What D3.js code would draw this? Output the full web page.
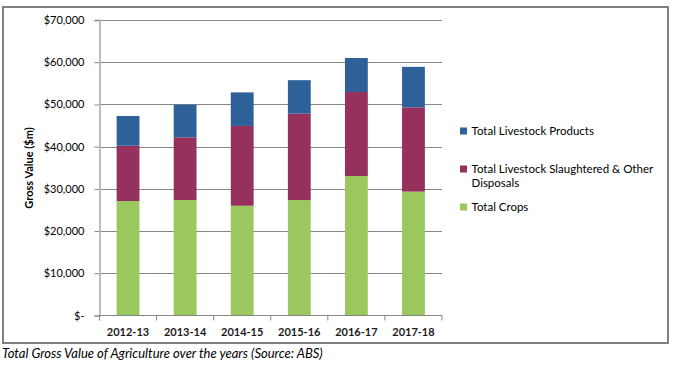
<!DOCTYPE html>
<html><head><meta charset="utf-8">
<script src="https://cdn.jsdelivr.net/npm/d3@7"></script>
<style>
html,body{margin:0;padding:0;background:#fff;}
svg{display:block;font-family:Lato,"Open Sans",sans-serif;}
</style></head>
<body>
<svg id="chart" width="675" height="366"></svg>
<script>
const categories = ["2012-13","2013-14","2014-15","2015-16","2016-17","2017-18"];
const totalCrops = [27100, 27350, 26000, 27350, 33050, 29350];
const livestockSlaughtered = [13100, 14850, 18900, 20450, 19900, 19950];
const livestockProducts = [7050, 7750, 7950, 7950, 8050, 9600];
const yTicks = [0, 10000, 20000, 30000, 40000, 50000, 60000, 70000];
const seriesNames = ["Total Crops", "Total Livestock Slaughtered & Other Disposals", "Total Livestock Products"];
const seriesColors = ["#9bc85e", "#96305d", "#2f6199"];

const svg = d3.select("#chart");
const m = {left: 99.5, right: 442, top: 20, bottom: 315.5};

// outer border
svg.append("rect").attr("x", 3).attr("y", 7).attr("width", 665).attr("height", 336)
  .attr("fill", "none").attr("stroke", "#808080").attr("stroke-width", 2);

const x = d3.scaleBand().domain(categories).range([m.left, m.right]).paddingInner(0.6).paddingOuter(0.3);
const y = d3.scaleLinear().domain([0, 70000]).range([m.bottom, m.top]);

// gridlines
svg.append("g").selectAll("line").data(yTicks.filter(d => d > 0)).join("line")
  .attr("x1", m.left).attr("x2", m.right)
  .attr("y1", d => Math.round(y(d)) + 0.5).attr("y2", d => Math.round(y(d)) + 0.5)
  .attr("stroke", "#878787").attr("stroke-width", 1);

// y axis
const yAxis = d3.axisLeft(y).tickValues(yTicks).tickSize(5).tickPadding(10)
  .tickFormat(d => d === 0 ? "$-" : "$" + d3.format(",")(d));
const gy = svg.append("g").attr("transform", `translate(${m.left},0)`).call(yAxis);
gy.select(".domain").attr("stroke", "#bdbdbd").attr("stroke-width", 2);
gy.selectAll(".tick line").attr("stroke", "#878787");
gy.selectAll(".tick text").attr("fill", "#000").attr("font-size", "11px").attr("font-family", "Lato,sans-serif");

// stacked data
const rows = categories.map((c, i) => ({cat: c, s0: totalCrops[i], s1: livestockSlaughtered[i], s2: livestockProducts[i]}));
const stack = d3.stack().keys(["s0", "s1", "s2"]);
const stacked = stack(rows);
svg.append("g").selectAll("g").data(stacked).join("g")
  .attr("fill", (d, i) => seriesColors[i])
  .selectAll("rect").data(d => d).join("rect")
  .attr("x", d => x(d.data.cat))
  .attr("width", x.bandwidth())
  .attr("y", d => y(d[1]))
  .attr("height", d => y(d[0]) - y(d[1]));

// x axis
const bounds = d3.range(categories.length + 1).map(i => m.left + i * (m.right - m.left) / categories.length);
const gx = svg.append("g");
gx.append("line").attr("x1", m.left).attr("x2", m.right).attr("y1", m.bottom).attr("y2", m.bottom)
  .attr("stroke", "#878787").attr("stroke-width", 1);
gx.selectAll("line.tk").data(bounds).join("line").attr("class", "tk")
  .attr("x1", d => d).attr("x2", d => d).attr("y1", m.bottom).attr("y2", m.bottom + 5)
  .attr("stroke", "#878787");
gx.selectAll("text").data(categories).join("text")
  .attr("x", d => x(d) + x.bandwidth() / 2).attr("y", 336)
  .attr("text-anchor", "middle").attr("font-size", "11px").attr("font-weight", "bold")
  .attr("fill", "#1a1a1a").text(d => d);

// y title
svg.append("text").attr("transform", "translate(33,168) rotate(-90)")
  .attr("text-anchor", "middle").attr("font-size", "11px").attr("font-weight", "bold")
  .text("Gross Value ($m)");

// legend
const legend = [
  {name: seriesNames[2], color: seriesColors[2], lines: ["Total Livestock Products"], y: 131},
  {name: seriesNames[1], color: seriesColors[1], lines: ["Total Livestock Slaughtered & Other", "Disposals"], y: 169},
  {name: seriesNames[0], color: seriesColors[0], lines: ["Total Crops"], y: 207}
];
const lg = svg.append("g").selectAll("g").data(legend).join("g");
lg.append("rect").attr("x", 460).attr("y", d => d.y - 3.5).attr("width", 7).attr("height", 7).attr("fill", d => d.color);
lg.append("text").attr("x", 471.5).attr("y", d => d.y + 4).attr("font-size", "11.5px").attr("fill", "#000")
  .selectAll("tspan").data(d => d.lines).join("tspan")
  .attr("x", 471.5).attr("dy", (d, i) => i === 0 ? 0 : 14).text(d => d);

// caption
svg.append("text").attr("x", 2).attr("y", 358).attr("font-size", "13px").attr("font-style", "italic")
  .attr("fill", "#000").text("Total Gross Value of Agriculture over the years (Source: ABS)");
</script>
</body></html>
